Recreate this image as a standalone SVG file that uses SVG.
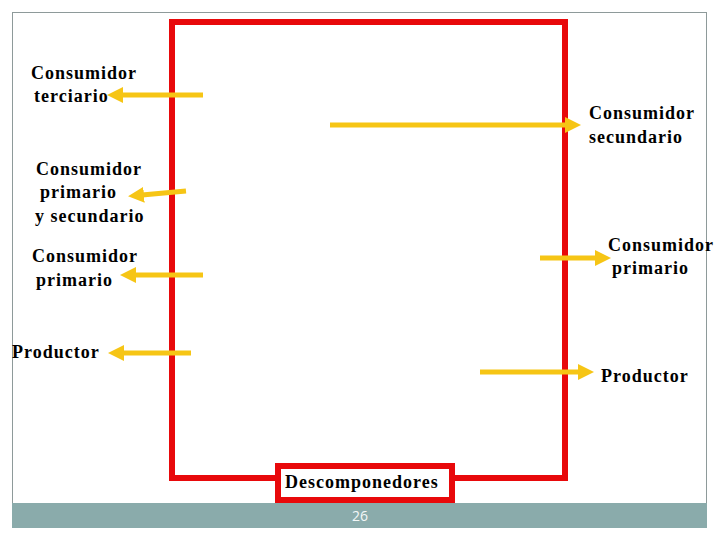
<svg xmlns="http://www.w3.org/2000/svg" width="720" height="540" viewBox="0 0 720 540">
<style>
.lbl{font-family:"Liberation Serif","Times New Roman",serif;font-weight:bold;font-size:18px;letter-spacing:1px;fill:#000}
.arr{stroke:#f6c515;stroke-width:5;fill:none;marker-end:url(#head)}
.red{fill:none;stroke:#e8090b;stroke-width:6}
</style>
<defs>
<marker id="head" viewBox="0 0 16 16" markerWidth="16" markerHeight="16" markerUnits="userSpaceOnUse" refX="2" refY="8" orient="auto">
<path d="M0,0 L16,8 L0,16 z" fill="#f6c515"/>
</marker>
</defs>
<rect x="0" y="0" width="720" height="540" fill="#fff"/>
<g id="slide">
<rect x="12.5" y="12.5" width="694" height="515" fill="#fff" stroke="#8e9a9a" stroke-width="1"/>
<rect x="12" y="503" width="695" height="25" fill="#8aabab"/>
<text x="360" y="521" font-family="'Open Sans','Liberation Sans',sans-serif" font-size="14" fill="#f4f8f8" text-anchor="middle">26</text>
</g>
<g id="ecosystem">
<polyline class="red" points="278,478 172,478 172,22 565,22 565,478 452,478"/>
</g>
<g id="connectors">
<line class="arr" x1="203" y1="95" x2="121" y2="95"/>
<line class="arr" x1="330" y1="125" x2="567" y2="125"/>
<line class="arr" x1="186" y1="191" x2="142" y2="195"/>
<line class="arr" x1="203" y1="275" x2="134" y2="275"/>
<line class="arr" x1="191" y1="353" x2="122" y2="353"/>
<line class="arr" x1="540" y1="258" x2="597" y2="258"/>
<line class="arr" x1="480" y1="372" x2="580" y2="372"/>
</g>
<g id="descomponedores">
<rect x="278" y="466" width="174" height="34" fill="#fff" stroke="#e8090b" stroke-width="6"/>
<text class="lbl" x="285" y="488">Descomponedores</text>
</g>
<g id="consumidor-terciario">
<text class="lbl" x="31" y="79">Consumidor</text>
<text class="lbl" x="34" y="102">terciario</text>
</g>
<g id="consumidor-secundario">
<text class="lbl" x="589" y="119">Consumidor</text>
<text class="lbl" x="589" y="143">secundario</text>
</g>
<g id="consumidor-primario-secundario">
<text class="lbl" x="36" y="175">Consumidor</text>
<text class="lbl" x="40" y="198">primario</text>
<text class="lbl" x="35" y="222">y secundario</text>
</g>
<g id="consumidor-primario-izq">
<text class="lbl" x="32" y="262">Consumidor</text>
<text class="lbl" x="36" y="286">primario</text>
</g>
<g id="consumidor-primario-der">
<text class="lbl" x="608" y="251">Consumidor</text>
<text class="lbl" x="612" y="274">primario</text>
</g>
<g id="productor-izq">
<text class="lbl" x="12" y="358">Productor</text>
</g>
<g id="productor-der">
<text class="lbl" x="601" y="382">Productor</text>
</g>
</svg>
